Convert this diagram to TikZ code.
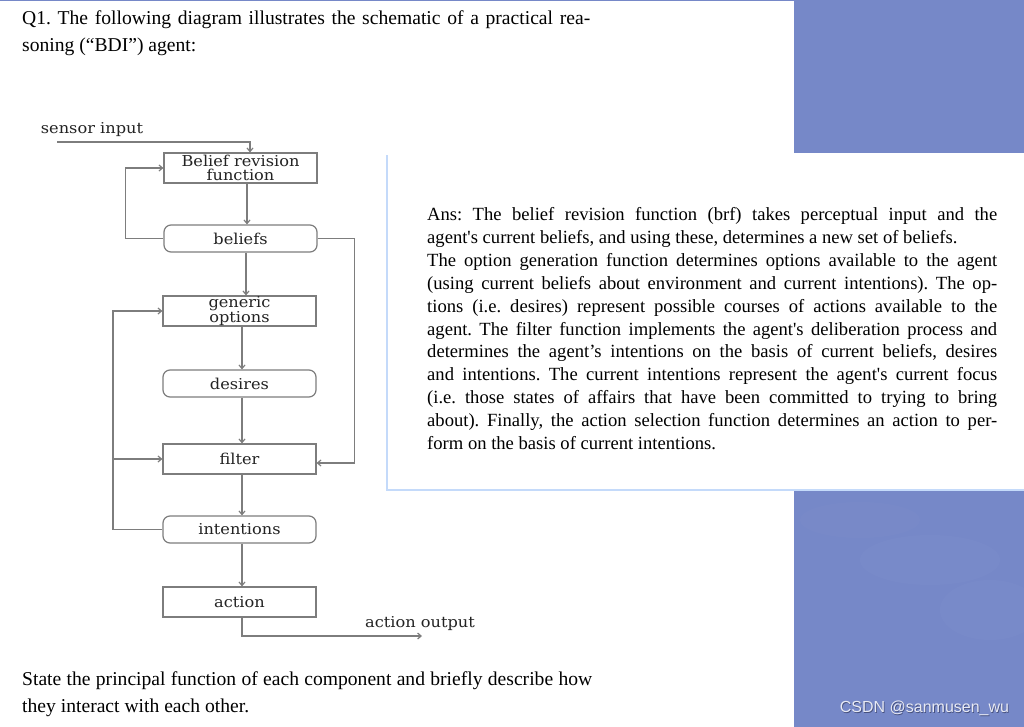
\documentclass[tikz,border=0pt]{standalone}
\usepackage{fontspec}
\setmainfont{Liberation Serif}
\newfontfamily\dgfamily[FakeStretch=1.08]{DejaVu Serif}
\newfontfamily\wmfamily{Liberation Sans}
\usetikzlibrary{arrows.meta}
\definecolor{bgblue}{RGB}{118,136,200}
\definecolor{lgray}{RGB}{125,125,125}
\definecolor{dtext}{RGB}{35,35,35}
\definecolor{glow}{RGB}{196,218,250}
\definecolor{wmtext}{RGB}{232,234,244}
\definecolor{wmshadow}{RGB}{70,80,125}
\newcommand\dgfont{\dgfamily\fontsize{15}{13.5}\selectfont}
\newcommand\txfont{\frenchspacing\fontsize{18.6}{22}\selectfont}
\newcommand\qfont{\frenchspacing\fontsize{19.6}{22}\selectfont}
\newcommand\wmfont{\wmfamily\fontsize{16}{18}\selectfont}
\begin{document}
\begin{tikzpicture}[x=1pt,y=-1pt,
  box/.style={draw=lgray, line width=1.2pt, minimum width=153pt, minimum height=30pt,
    inner sep=0pt, font=\dgfont, text=dtext, align=center},
  rbox/.style={box, rounded corners=7pt, minimum height=27pt},
  lbl/.style={inner sep=0pt, font=\dgfont, text=dtext},
  conn/.style={draw=lgray, line width=1.2pt},
  arr/.style={conn, -{Straight Barb[length=3.5pt,width=6pt]}},
  txt/.style={anchor=base west, inner sep=0pt, font=\txfont, text=black},
  qtxt/.style={txt, font=\qfont}]
\useasboundingbox (0,0) rectangle (1024,727);
% page and background
\fill[white] (0,0) rectangle (1024,727);
\fill[bgblue] (794,0) rectangle (1024,727);
\fill[bgblue] (0,0) rectangle (794,1.5);
\fill[white, opacity=0.02] (930,560) ellipse (70 and 25);
\fill[white, opacity=0.02] (990,610) ellipse (50 and 30);
\fill[white, opacity=0.015] (860,520) ellipse (60 and 18);
% answer box
\fill[glow] (386,155) rectangle (1024,491);
\fill[white] (388,153) rectangle (1024,489);
% title
\node[qtxt] (t1) at (22,25) {\makebox[568pt][s]{Q1. The following diagram illustrates the schematic of a practical rea-}};
\node[qtxt] (t2) at (22,52) {soning (“BDI”) agent:};
% answer text
\node[txt] (a1) at (427,221.0) {\makebox[570pt][s]{Ans: The belief revision function (brf) takes perceptual input and the}};
\node[txt] (a2) at (427,243.8) {agent\textquotesingle s current beliefs, and using these, determines a new set of beliefs.};
\node[txt] (a3) at (427,266.6) {\makebox[570pt][s]{The option generation function determines options available to the agent}};
\node[txt] (a4) at (427,289.4) {\makebox[570pt][s]{(using current beliefs about environment and current intentions). The op-}};
\node[txt] (a5) at (427,312.2) {\makebox[570pt][s]{tions (i.e. desires) represent possible courses of actions available to the}};
\node[txt] (a6) at (427,335.0) {\makebox[570pt][s]{agent. The filter function implements the agent\textquotesingle s deliberation process and}};
\node[txt] (a7) at (427,357.8) {\makebox[570pt][s]{determines the agent’s intentions on the basis of current beliefs, desires}};
\node[txt] (a8) at (427,380.6) {\makebox[570pt][s]{and intentions. The current intentions represent the agent\textquotesingle s current focus}};
\node[txt] (a9) at (427,403.4) {\makebox[570pt][s]{(i.e. those states of affairs that have been committed to trying to bring}};
\node[txt] (a10) at (427,426.2) {\makebox[570pt][s]{about). Finally, the action selection function determines an action to per-}};
\node[txt] (a11) at (427,449.0) {form on the basis of current intentions.};
% bottom text
\node[qtxt] (b1) at (22,685) {\makebox[570pt][s]{State the principal function of each component and briefly describe how}};
\node[qtxt] (b2) at (22,712) {they interact with each other.};
% diagram
\node[box] (brf) at (240.5,168) {Belief revision\\function};
\node[rbox] (bel) at (240.5,238.5) {beliefs};
\node[box] (gen) at (239.5,311) {generic\\options};
\node[rbox] (des) at (239.5,383.5) {desires};
\node[box] (fil) at (239.5,459) {filter};
\node[rbox] (int) at (239.5,529.5) {intentions};
\node[box] (act) at (239.5,602) {action};
\node[lbl] (sin) at (92,130) {sensor input};
\node[lbl] (aout) at (420,624) {action output};
\coordinate (sstart) at (57,142);
\coordinate (aend) at (422,636);
\coordinate (lx) at (113,0);
\draw[arr] (sstart) -| ([xshift=9.5pt]brf.north);
\draw[arr] ([xshift=6.5pt]brf.south) -- ([xshift=6.5pt]bel.north);
\draw[arr] ([xshift=5.5pt]bel.south) -- ([xshift=6.5pt]gen.north);
\draw[arr] ([xshift=2.5pt]gen.south) -- ([xshift=2.5pt]des.north);
\draw[arr] ([xshift=2.5pt]des.south) -- ([xshift=2.5pt]fil.north);
\draw[arr] ([xshift=2.5pt]fil.south) -- ([xshift=2.5pt]int.north);
\draw[arr] ([xshift=2.5pt]int.south) -- ([xshift=2.5pt]act.north);
\draw[arr] ([xshift=2.5pt]act.south) |- (aend);
\draw[arr] (bel.west) -- ++(-38,0) |- (brf.west);
\draw[arr] (bel.east) -- ++(37,0) |- ([yshift=-4pt]fil.east);
\draw[arr] (int.west) -- (int.west -| lx) |- (gen.west);
\draw[arr] (fil.west -| lx) -- (fil.west);
% watermark
\node[inner sep=0pt, font=\wmfont, text=wmshadow] (wms) at (925.3,708.8) {CSDN @sanmusen\_wu};
\node[inner sep=0pt, font=\wmfont, text=wmtext] (wm) at (924.5,708) {CSDN @sanmusen\_wu};
\end{tikzpicture}
\end{document}
